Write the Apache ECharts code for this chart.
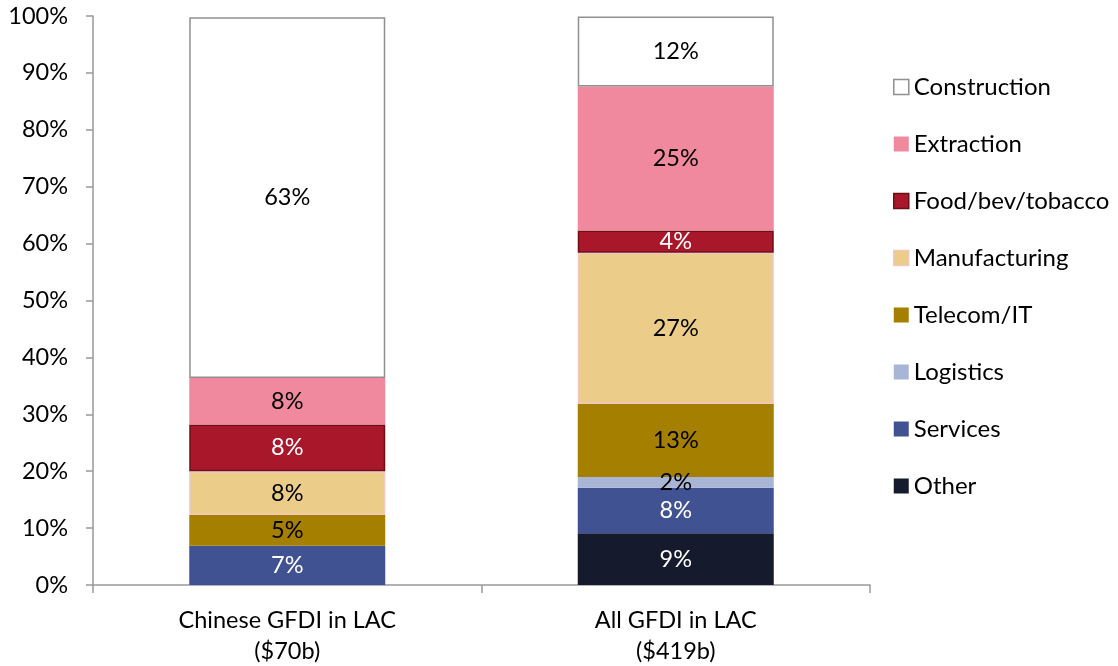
<!DOCTYPE html>
<html><head><meta charset="utf-8">
<script src="https://cdn.jsdelivr.net/npm/echarts@6/dist/echarts.min.js"></script>
<style>html,body{margin:0;padding:0;background:#fff}#c{width:1118px;height:666px}</style>
</head><body><div id="c"></div>
<script>
const categories = ['Chinese GFDI in LAC\n($70b)', 'All GFDI in LAC\n($419b)'];
const seriesNames = ['Other','Services','Logistics','Telecom/IT','Manufacturing','Food/bev/tobacco','Extraction','Construction'];
const other        = [0, 9.1];
const services     = [6.9, 8.0];
const logistics    = [0, 1.9];
const telecom      = [5.4, 12.8];
const manufacturing= [7.7, 26.6];
const food         = [8.2, 3.9];
const extraction   = [8.2, 25.3];
const construction = [63.4, 12.3];
const yTicks = [0,10,20,30,40,50,60,70,80,90,100];

const values = [other, services, logistics, telecom, manufacturing, food, extraction, construction];
const colors = ['#151a2d','#415293','#a9b5d5','#a57f00','#ebcd89','#a8182a','#f0899e','#ffffff'];
const borders = [null,null,null,null,'#f0c8c0','#6e0f18',null,'#909090'];
const labelColors = ['#fff','#fff','#000','#000','#000','#fff','#000','#000'];
const FONT = 'Lato';
const FS = 23.5;

const series = seriesNames.map((n,i)=>({
  name: n, type: 'bar', stack: 'all', barWidth: 196,
  data: values[i],
  itemStyle: { color: colors[i], borderColor: borders[i] || colors[i], borderWidth: borders[i] ? 1.5 : 0 },
  label: { show: true, position: 'inside', color: labelColors[i], fontSize: FS, fontFamily: FONT,
    formatter: p => p.value ? Math.round(p.value) + '%' : '' },
  emphasis: { disabled: true }
}));

const legendOrder = seriesNames.slice().reverse();
const chart = echarts.init(document.getElementById('c'), null, {renderer:'canvas'});
chart.setOption({
  animation: false,
  backgroundColor: '#fff',
  textStyle: { fontFamily: FONT },
  grid: { left: 93, right: 248, top: 16, bottom: 81, containLabel: false, outerBoundsMode: 'none' },
  legend: {
    orient: 'vertical', left: 893, top: 75, padding: 0, itemGap: 33, itemWidth: 15, itemHeight: 15,
    icon: 'rect',
    textStyle: { fontSize: 24, lineHeight: 24, color: '#000', fontFamily: FONT },
    data: legendOrder.map(n => {
      const i = seriesNames.indexOf(n);
      return { name: n, itemStyle: { color: colors[i], borderColor: borders[i] || colors[i], borderWidth: borders[i] ? 1.5 : 0 } };
    })
  },
  xAxis: {
    type: 'category', data: categories,
    axisLine: { lineStyle: { color: '#999', width: 1.5 } },
    axisTick: { show: true, length: 8, lineStyle: { color: '#999', width: 1.5 } },
    axisLabel: { fontSize: FS, color: '#000', fontFamily: FONT, margin: 20, lineHeight: 31 }
  },
  yAxis: {
    type: 'value', min: 0, max: 100, interval: 10,
    axisLine: { show: true, lineStyle: { color: '#999', width: 1.5 } },
    axisTick: { show: true, length: 7, lineStyle: { color: '#999', width: 1.5 } },
    splitLine: { show: false },
    axisLabel: { fontSize: FS, color: '#000', fontFamily: FONT, margin: 25,
      formatter: v => yTicks.includes(v) ? v + '%' : '' }
  },
  series: series
});
</script></body></html>
